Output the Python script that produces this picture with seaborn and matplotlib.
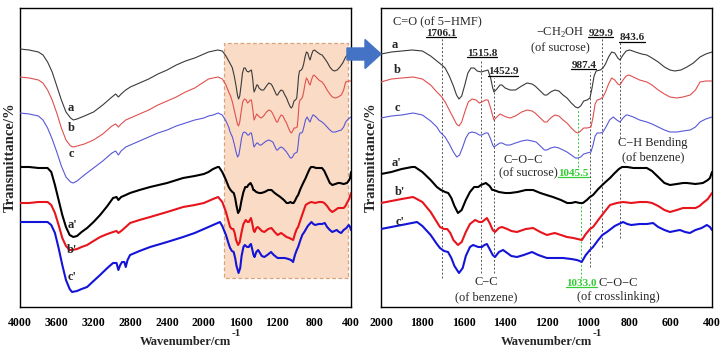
import numpy as np
import pandas as pd
import seaborn as sns
import matplotlib
matplotlib.use("Agg")
import matplotlib.pyplot as plt
from matplotlib.patches import Rectangle, FancyArrow
from matplotlib.lines import Line2D
from matplotlib.transforms import IdentityTransform

# ---------------- data: (wavenumber cm-1, transmittance a.u. incl. stacking offset) ----------------
spec_a = [(4000, 258), (3900, 257), (3800, 255), (3750, 252), (3700, 245), (3650, 235), (3600, 221), (3550, 207),
          (3500, 195), (3450, 189), (3420, 187), (3380, 188), (3300, 191), (3200, 195), (3100, 202), (3000, 210),
          (2960, 213), (2930, 210), (2900, 213), (2850, 217), (2800, 220), (2700, 224), (2600, 228), (2500, 233),
          (2400, 237), (2300, 242), (2200, 246), (2100, 249), (2000, 253), (1950, 255), (1900, 256), (1850, 257),
          (1800, 256), (1760, 251), (1730, 246), (1706, 242), (1690, 239), (1670, 231), (1650, 221), (1635, 212),
          (1623, 208), (1610, 211), (1595, 222), (1580, 234), (1565, 239), (1550, 239), (1535, 236), (1515, 235),
          (1500, 236), (1483, 237), (1470, 229), (1460, 219), (1454, 215), (1440, 218), (1425, 222), (1415, 222),
          (1400, 219), (1376, 217), (1350, 217), (1320, 221), (1294, 224), (1270, 223), (1255, 221), (1230, 216),
          (1210, 212), (1198, 212), (1180, 215), (1160, 217), (1140, 216), (1120, 212), (1101, 209), (1080, 204),
          (1060, 200), (1048, 199), (1035, 201), (1020, 206), (1004, 207), (990, 209), (980, 219), (970, 231),
          (960, 236), (940, 237), (927, 239), (915, 243), (900, 250), (885, 255), (870, 254), (855, 249),
          (845, 247), (830, 252), (815, 256), (797, 257), (770, 255), (740, 253), (715, 252), (690, 249),
          (660, 245), (630, 240), (603, 237), (580, 236), (550, 237), (521, 240), (490, 244), (458, 250),
          (430, 253), (400, 255)]

spec_b = [(4000, 230), (3900, 229), (3800, 227), (3750, 224), (3700, 217), (3650, 207), (3600, 194), (3550, 179),
          (3500, 167), (3450, 161), (3420, 160), (3380, 161), (3300, 163), (3200, 167), (3100, 173), (3000, 181),
          (2960, 183), (2930, 180), (2900, 183), (2850, 187), (2800, 189), (2700, 193), (2600, 197), (2500, 202),
          (2400, 206), (2300, 210), (2200, 215), (2100, 219), (2000, 225), (1950, 228), (1900, 229), (1845, 230),
          (1800, 228), (1760, 222), (1730, 215), (1706, 210), (1690, 205), (1670, 197), (1650, 189), (1635, 183),
          (1623, 181), (1610, 185), (1595, 195), (1578, 205), (1560, 208), (1540, 207), (1525, 204), (1512, 205),
          (1495, 207), (1483, 207), (1470, 199), (1460, 191), (1454, 187), (1440, 190), (1425, 193), (1415, 192),
          (1395, 190), (1376, 189), (1350, 191), (1320, 195), (1294, 197), (1270, 196), (1255, 194), (1230, 189),
          (1210, 185), (1198, 185), (1180, 189), (1160, 192), (1140, 191), (1120, 187), (1101, 184), (1080, 179),
          (1060, 175), (1048, 174), (1035, 176), (1020, 179), (1004, 179), (985, 180), (975, 190), (965, 203),
          (955, 207), (940, 208), (927, 210), (915, 215), (900, 223), (885, 229), (870, 227), (855, 223),
          (845, 222), (830, 227), (815, 231), (803, 232), (780, 230), (750, 227), (715, 225), (690, 222),
          (660, 217), (630, 213), (603, 210), (570, 209), (540, 210), (505, 212), (480, 217), (458, 225),
          (430, 226), (400, 226)]

spec_c = [(4000, 194), (3900, 193), (3800, 191), (3750, 187), (3700, 179), (3650, 168), (3600, 155), (3550, 141),
          (3500, 130), (3450, 125), (3420, 124), (3380, 126), (3300, 132), (3200, 139), (3100, 146), (3000, 154),
          (2960, 156), (2930, 152), (2900, 156), (2850, 160), (2800, 162), (2700, 166), (2600, 170), (2500, 174),
          (2400, 177), (2300, 181), (2200, 184), (2100, 187), (2000, 189), (1950, 191), (1900, 192), (1845, 194),
          (1800, 192), (1760, 186), (1730, 180), (1715, 175), (1690, 170), (1670, 163), (1650, 155), (1634, 150),
          (1620, 152), (1605, 160), (1590, 169), (1575, 174), (1560, 175), (1540, 174), (1525, 172), (1512, 172),
          (1495, 174), (1483, 174), (1470, 168), (1460, 162), (1454, 160), (1440, 162), (1425, 164), (1415, 164),
          (1395, 162), (1376, 162), (1350, 164), (1320, 166), (1294, 167), (1270, 166), (1250, 165), (1230, 161),
          (1210, 157), (1198, 157), (1180, 159), (1160, 160), (1140, 159), (1120, 157), (1101, 155), (1080, 152),
          (1060, 149), (1048, 149), (1035, 150), (1020, 153), (1004, 154), (985, 155), (975, 162), (965, 171),
          (955, 174), (940, 174), (927, 175), (910, 181), (895, 187), (877, 190), (860, 187), (845, 185),
          (830, 189), (815, 192), (808, 192), (780, 190), (750, 187), (715, 185), (690, 183), (660, 180),
          (630, 177), (603, 175), (570, 175), (540, 176), (505, 177), (480, 180), (458, 185), (430, 188),
          (400, 190)]

spec_a2 = [(4000, 140), (3900, 140), (3800, 139), (3700, 139), (3660, 135), (3620, 122), (3580, 107), (3540, 92),
           (3500, 80), (3460, 72), (3420, 70), (3380, 71), (3330, 75), (3270, 79), (3200, 85), (3129, 92),
           (3050, 101), (2988, 109), (2950, 110), (2930, 107), (2900, 110), (2850, 112), (2803, 114), (2700, 117),
           (2585, 120), (2400, 124), (2226, 129), (2100, 131), (2000, 133), (1950, 135), (1900, 138), (1850, 140),
           (1836, 140), (1800, 135), (1760, 127), (1730, 120), (1710, 117), (1690, 115), (1675, 114), (1660, 109),
           (1645, 101), (1628, 94), (1610, 97), (1590, 107), (1570, 115), (1550, 120), (1530, 120), (1517, 122),
           (1505, 123), (1493, 124), (1475, 121), (1462, 117), (1455, 117), (1430, 115), (1400, 114), (1376, 114),
           (1340, 115), (1300, 117), (1265, 117), (1230, 114), (1200, 112), (1169, 110), (1130, 107), (1100, 104),
           (1080, 104), (1060, 105), (1040, 104), (1024, 104), (1005, 107), (990, 110), (975, 112), (950, 118),
           (920, 124), (893, 129), (870, 134), (850, 138), (835, 140), (810, 140), (780, 139), (750, 139),
           (715, 139), (690, 136), (660, 130), (630, 124), (603, 122), (570, 123), (540, 124), (521, 124),
           (480, 123), (444, 124), (420, 127), (410, 129), (400, 135)]

spec_b2 = [(4000, 104), (3900, 104), (3800, 105), (3700, 105), (3660, 102), (3620, 94), (3580, 82), (3540, 69),
           (3500, 61), (3460, 57), (3434, 57), (3380, 58), (3330, 60), (3270, 62), (3200, 66), (3129, 70),
           (3050, 73), (2988, 75), (2950, 76), (2930, 74), (2900, 76), (2850, 80), (2803, 84), (2700, 87),
           (2585, 90), (2400, 95), (2226, 100), (2100, 102), (2000, 104), (1950, 106), (1900, 108), (1845, 110),
           (1800, 105), (1760, 95), (1730, 85), (1715, 80), (1695, 78), (1680, 78), (1665, 74), (1650, 67),
           (1628, 62), (1610, 65), (1590, 75), (1570, 83), (1545, 87), (1525, 85), (1512, 85), (1500, 87),
           (1488, 89), (1475, 84), (1460, 77), (1449, 75), (1430, 79), (1415, 80), (1390, 78), (1370, 76),
           (1343, 75), (1300, 78), (1265, 79), (1230, 75), (1198, 72), (1180, 73), (1160, 74), (1130, 72),
           (1101, 70), (1070, 69), (1050, 68), (1029, 67), (1010, 73), (990, 78), (975, 80), (950, 87),
           (920, 95), (893, 102), (860, 104), (830, 105), (790, 104), (750, 105), (715, 105), (690, 104),
           (660, 101), (630, 97), (603, 95), (570, 97), (540, 99), (510, 99), (480, 99), (460, 101),
           (444, 104), (420, 108), (400, 114)]

spec_c2 = [(4000, 85), (3900, 85), (3800, 85), (3700, 85), (3660, 82), (3620, 74), (3580, 59), (3540, 42),
           (3500, 27), (3460, 18), (3434, 15), (3380, 16), (3330, 18), (3270, 20), (3200, 26), (3129, 32),
           (3050, 39), (2988, 44), (2950, 44), (2930, 37), (2910, 42), (2890, 45), (2865, 45), (2850, 40),
           (2830, 47), (2803, 52), (2700, 56), (2585, 60), (2400, 65), (2226, 70), (2100, 74), (2000, 78),
           (1950, 80), (1900, 82), (1826, 85), (1800, 81), (1760, 72), (1730, 63), (1715, 59), (1695, 56),
           (1676, 55), (1660, 49), (1645, 41), (1623, 34), (1605, 39), (1590, 51), (1570, 60), (1555, 62),
           (1530, 60), (1512, 60), (1500, 62), (1488, 63), (1475, 58), (1460, 52), (1449, 50), (1430, 55),
           (1410, 57), (1390, 54), (1370, 51), (1343, 50), (1310, 52), (1270, 55), (1240, 52), (1198, 49),
           (1160, 49), (1120, 49), (1080, 48), (1053, 47), (1040, 46), (1030, 45), (1010, 52), (990, 57),
           (975, 60), (950, 67), (930, 72), (908, 75), (870, 81), (830, 85), (810, 83), (790, 82),
           (750, 83), (715, 83), (685, 84), (660, 80), (630, 77), (603, 75), (580, 76), (555, 77),
           (530, 75), (507, 74), (480, 77), (450, 79), (425, 82), (410, 80), (400, 77)]

sample_names = ["a", "b", "c", "a'", "b'", "c'"]
spectra = [spec_a, spec_b, spec_c, spec_a2, spec_b2, spec_c2]

left_ticks = [4000, 3600, 3200, 2800, 2400, 2000, 1600, 1200, 800, 400]
right_ticks = [2000, 1800, 1600, 1400, 1200, 1000, 800, 600, 400]

peak_marks = [1706.1, 1515.8, 1452.9, 987.4, 929.9, 843.6]
green_marks = [1045.5, 1033.0]

# ---------------- styling ----------------
colors = ["#3a3a3a", "#e05050", "#5858d8", "#000000", "#e8141c", "#1414d8"]
widths = [0.8, 0.8, 0.8, 1.5, 1.5, 1.5]
GREEN = "#33cc33"
SERIF = "Liberation Serif"

sns.set_theme(style="white")
plt.rcParams["font.family"] = [SERIF, "DejaVu Serif"]
plt.rcParams["mathtext.fontset"] = "custom"
plt.rcParams["mathtext.rm"] = SERIF
plt.rcParams["mathtext.bf"] = SERIF + ":bold"

frames = []
for n, sp in zip(sample_names, spectra):
    w, t = zip(*sp)
    frames.append(pd.DataFrame({"wn": list(w), "T": list(t), "sample": n}))
df = pd.concat(frames, ignore_index=True)

fig = plt.figure(figsize=(7.26, 3.56), dpi=100)
W, H = 726, 356
axL = fig.add_axes([20 / W, (H - 307) / H, 331 / W, 299 / H])
axR = fig.add_axes([381 / W, (H - 307) / H, 331 / W, 299 / H])

# highlighted region in left panel
axL.add_patch(Rectangle((430, 29), 1780 - 430, 264 - 29, facecolor="#fadbc6", edgecolor="#d8a47e",
                        linestyle=(0, (3, 2)), linewidth=0.9, zorder=0))

for ax in (axL, axR):
    for i, n in enumerate(sample_names):
        sns.lineplot(data=df[df["sample"] == n], x="wn", y="T", ax=ax, color=colors[i],
                     linewidth=widths[i], estimator=None, legend=False, zorder=3)
    ax.set_ylim(0, 299)
    ax.set_yticks([])
    for s in ax.spines.values():
        s.set_color("black")
        s.set_linewidth(1.0)
    ax.tick_params(axis="x", direction="in", length=3, width=0.8, pad=7, colors="black")
    ax.set_xlabel("Wavenumber/cm", fontsize=9, fontweight="bold", labelpad=5)
    ax.set_ylabel("Transmittance/%", fontsize=10.5, fontweight="bold", labelpad=2)

axL.set_xlim(4000, 400)
axL.set_xticks(left_ticks)
axR.set_xlim(2000, 400)
axR.set_xticks(right_ticks)
for ax in (axL, axR):
    ax.set_xticklabels([str(t) for t in ax.get_xticks()], fontsize=8.5, fontweight="bold")
    ax.text(0.638, -0.088, "-1", transform=ax.transAxes, fontsize=8, fontweight="bold", ha="left", va="center")

# sample labels
lab_left = {"a": (3445, 199), "b": (3445, 179), "c": (3445, 153), "a'": (3434, 82), "b'": (3434, 57), "c'": (3434, 30)}
lab_right = {"a": (1932, 262), "b": (1923, 237), "c": (1923, 199), "a'": (1923, 144), "b'": (1908, 115), "c'": (1908, 85)}
for n in sample_names:
    axL.text(*lab_left[n], n, fontsize=9, fontweight="bold", ha="center", va="center", zorder=5)
    axR.text(*lab_right[n], n, fontsize=9, fontweight="bold", ha="center", va="center", zorder=5)

# dotted marker lines
dot = (0, (2, 2))
mark_spans = {1706.1: [(29, 270)], 1515.8: [(34, 247)], 1452.9: [(34, 229)], 987.4: [(40, 235)],
              929.9: [(60, 269)], 843.6: [(69, 134), (169, 265)]}
for m in peak_marks:
    for y0, y1 in mark_spans[m]:
        axR.vlines(m, y0, y1, colors="#555555", linestyles=dot, linewidth=0.7, zorder=2)
axR.vlines(green_marks[0], 140, 197, colors=GREEN, linestyles=dot, linewidth=0.7, zorder=2)
axR.vlines(green_marks[1], 29, 104, colors=GREEN, linestyles=dot, linewidth=0.7, zorder=2)

fs = 8.9
axR.text(1942, 285, "C=O (of 5\u2212HMF)", fontsize=fs, ha="left", va="center")
axR.text(1135, 274, "\u2212CH$_2$OH", fontsize=fs, ha="center", va="center")
axR.text(1135, 259, "(of sucrose)", fontsize=fs, ha="center", va="center")
axR.text(685, 164, "C\u2212H Bending", fontsize=fs, ha="center", va="center")
axR.text(685, 150, "(of benzene)", fontsize=fs, ha="center", va="center")
axR.text(1314, 147, "C\u2212O\u2212C", fontsize=fs, ha="center", va="center")
axR.text(1290, 134, "(of sucrose)", fontsize=fs, ha="center", va="center")
axR.text(1492, 25, "C\u2212C", fontsize=fs, ha="center", va="center")
axR.text(1492, 10, "(of benzene)", fontsize=fs, ha="center", va="center")
axR.text(852, 24, "C\u2212O\u2212C", fontsize=fs, ha="center", va="center")
axR.text(855, 10, "(of crosslinking)", fontsize=fs, ha="center", va="center")

num_pos = {1706.1: (1710, 274), 1515.8: (1512, 254), 1452.9: (1410, 235), 987.4: (1019, 242),
           929.9: (937, 274), 843.6: (787, 269)}
under = []
for m in peak_marks:
    t = axR.text(*num_pos[m], f"{m:.1f}", fontsize=8, fontweight="bold", ha="center", va="center", zorder=6)
    under.append((t, "black"))
g1 = axR.text(1070, 134, f"{green_marks[0]:.1f}", fontsize=8, fontweight="bold", color=GREEN, ha="center", va="center")
g2 = axR.text(1030, 24, f"{green_marks[1]:.1f}", fontsize=8, fontweight="bold", color=GREEN, ha="center", va="center")
under += [(g1, GREEN), (g2, GREEN)]

# arrow between panels
arrow = FancyArrow(347, H - 54, 34, 0, width=12, head_width=29, head_length=16, length_includes_head=True,
                   color="#4472c4", transform=IdentityTransform())
fig.add_artist(arrow)

fig.canvas.draw()
for t, c in under:
    bb = t.get_window_extent()
    fig.add_artist(Line2D([bb.x0, bb.x1], [bb.y0 + 1, bb.y0 + 1], color=c, linewidth=0.9,
                          transform=IdentityTransform()))

fig.savefig("out.png", dpi=100)
